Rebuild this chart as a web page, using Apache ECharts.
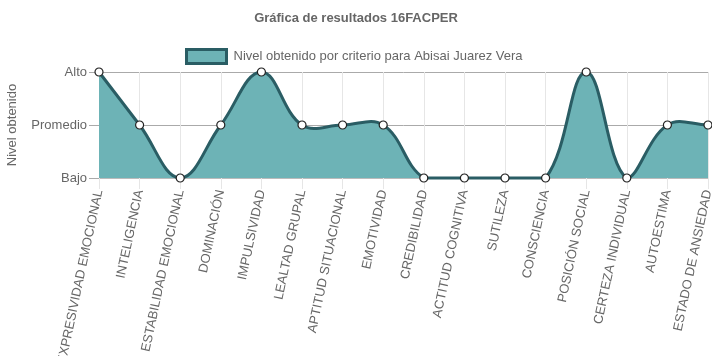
<!DOCTYPE html>
<html><head><meta charset="utf-8">
<script src="https://cdn.jsdelivr.net/npm/echarts@6/dist/echarts.min.js"></script>
<style>html,body{margin:0;padding:0;background:#fff}#c{width:712px;height:356px}</style>
</head><body><div id="c"></div>
<script>
const categories = ["EXPRESIVIDAD EMOCIONAL","INTELIGENCIA","ESTABILIDAD EMOCIONAL","DOMINACIÓN","IMPULSIVIDAD","LEALTAD GRUPAL","APTITUD SITUACIONAL","EMOTIVIDAD","CREDIBILIDAD","ACTITUD COGNITIVA","SUTILEZA","CONSCIENCIA","POSICIÓN SOCIAL","CERTEZA INDIVIDUAL","AUTOESTIMA","ESTADO DE ANSIEDAD"];
const values = [3,2,1,2,3,2,2,2,1,1,1,1,3,1,2,2];
const levelLabels = {1:"Bajo",2:"Promedio",3:"Alto"};
const seriesName = "Nivel obtenido por criterio para Abisai Juarez Vera";
const titleText = "Gráfica de resultados 16FACPER";
const yName = "Nivel obtenido";

const fillColor = '#6db3b6', lineColor = '#2a5d64';
const font = "'Liberation Sans', Arial, sans-serif";
const tension = 0.4;

// Spline through the points given by the chart's own scale (api.coord)
function renderCurve(params, api){
  if (params.dataIndex !== 0) return {type:'group', children:[]};
  const cs = params.coordSys;
  const top = cs.y, bottom = cs.y + cs.height, left = cs.x, right = cs.x + cs.width;
  const pts = values.map((v,i)=>api.coord([i, v]));
  const n = pts.length;
  const cps = pts.map((p,i)=>{
    const prev = pts[i-1] || p, next = pts[i+1] || p;
    const d01 = Math.hypot(p[0]-prev[0], p[1]-prev[1]);
    const d12 = Math.hypot(next[0]-p[0], next[1]-p[1]);
    let s01 = d01/(d01+d12), s12 = d12/(d01+d12);
    if (!isFinite(s01)) s01 = 0; if (!isFinite(s12)) s12 = 0;
    const fa = tension*s01, fb = tension*s12;
    const cap = (x,y)=>[Math.min(Math.max(x,left),right), Math.min(Math.max(y,top),bottom)];
    return {
      prev: cap(p[0]-fa*(next[0]-prev[0]), p[1]-fa*(next[1]-prev[1])),
      next: cap(p[0]+fb*(next[0]-prev[0]), p[1]+fb*(next[1]-prev[1]))
    };
  });
  let d = 'M' + pts[0][0] + ' ' + pts[0][1];
  for (let i=1;i<n;i++){
    const a = cps[i-1].next, b = cps[i].prev, p = pts[i];
    d += ' C' + a[0] + ' ' + a[1] + ' ' + b[0] + ' ' + b[1] + ' ' + p[0] + ' ' + p[1];
  }
  const area = d + ' L' + pts[n-1][0] + ' ' + bottom + ' L' + pts[0][0] + ' ' + bottom + ' Z';
  return {type:'group', children:[
    {type:'path', shape:{pathData:area}, style:{fill:fillColor, stroke:null}},
    {type:'path', shape:{pathData:d}, style:{fill:null, stroke:lineColor, lineWidth:3, lineJoin:'round'}}
  ]};
}

const chart = echarts.init(document.getElementById('c'));
chart.setOption({
  animation:false,
  textStyle:{fontFamily:font},
  title:{text:titleText,left:'center',top:7,textStyle:{fontSize:13,fontWeight:'bold',color:'#666',fontFamily:font}},
  legend:{top:43,left:180,itemWidth:40,itemHeight:14,icon:'rect',
    textStyle:{fontSize:13,color:'#666',fontFamily:font,padding:[0,0,0,2]},
    data:[{name:seriesName,itemStyle:{color:fillColor,borderColor:lineColor,borderWidth:3}}]},
  grid:{left:99,right:4,top:72,bottom:178,containLabel:false,outerBoundsMode:'none'},
  xAxis:{type:'category',data:categories,boundaryGap:false,
    axisLine:{show:true,lineStyle:{color:'#bbb',width:1}},
    axisTick:{show:true,length:11,alignWithLabel:true,lineStyle:{color:'#e6e6e6'}},
    splitLine:{show:true,lineStyle:{color:'#e6e6e6'}},
    axisLabel:{rotate:78,interval:0,margin:12,fontSize:13,color:'#666',fontFamily:font,hideOverlap:false}},
  yAxis:{type:'value',min:1,max:3,interval:1,name:yName,nameLocation:'middle',nameGap:80,
    nameTextStyle:{fontSize:13,color:'#666',fontFamily:font},
    axisLine:{show:true,lineStyle:{color:'#bbb'}},
    axisTick:{show:true,length:10,lineStyle:{color:'#aaa'}},
    splitLine:{show:true,lineStyle:{color:'#aaa'}},
    axisLabel:{fontSize:13,color:'#666',margin:12,fontFamily:font,formatter:v=>levelLabels[v]||''}},
  series:[
    {name:seriesName,type:'custom',data:values.map((v,i)=>[i,v]),renderItem:renderCurve,z:2,clip:false},
    {name:seriesName,type:'line',data:values,z:3,
      symbol:'circle',symbolSize:8,showAllSymbol:true,
      itemStyle:{color:'#fff',borderColor:'#222',borderWidth:1.2},
      lineStyle:{width:0,opacity:0}}
  ]
});
</script></body></html>
